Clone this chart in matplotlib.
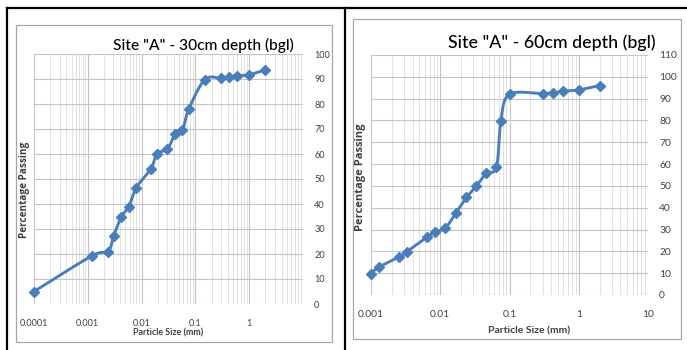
import numpy as np
import matplotlib
matplotlib.use("Agg")
import matplotlib.pyplot as plt
from matplotlib.lines import Line2D
from matplotlib.patches import Rectangle
from matplotlib.ticker import LogLocator, FixedLocator, NullFormatter, FixedFormatter

# ---- data ----
size_30 = [0.0001, 0.0012, 0.00238, 0.00303, 0.0042, 0.0058, 0.0080, 0.0151, 0.0192,
           0.0299, 0.042, 0.0574, 0.075, 0.15, 0.3, 0.425, 0.6, 1.0, 2.0]
pass_30 = [5.0, 19.3, 21.0, 27.3, 34.9, 39.0, 46.6, 54.2, 60.2,
           61.9, 67.9, 69.6, 77.9, 89.8, 90.3, 90.7, 91.2, 91.7, 93.7]

size_60 = [0.001, 0.00129, 0.00257, 0.00328, 0.00646, 0.0085, 0.0119, 0.0169, 0.0239,
           0.033, 0.046, 0.0649, 0.075, 0.1, 0.3, 0.425, 0.6, 1.0, 2.0]
pass_60 = [9.7, 12.7, 17.5, 19.8, 26.6, 28.9, 30.8, 37.7, 44.7,
           49.8, 55.7, 58.7, 79.9, 92.0, 92.3, 92.8, 93.4, 94.0, 96.0]

title_30 = 'Site "A" - 30cm depth (bgl)'
title_60 = 'Site "A" - 60cm depth (bgl)'
xticks_30 = [0.0001, 0.001, 0.01, 0.1, 1]
xticklabels_30 = ["0.0001", "0.001", "0.01", "0.1", "1"]
xticks_60 = [0.001, 0.01, 0.1, 1, 10]
xticklabels_60 = ["0.001", "0.01", "0.1", "1", "10"]
yticks_30 = list(range(0, 101, 10))
yticks_60 = list(range(0, 111, 10))
xlabel = "Particle Size (mm)"
ylabel = "Percentage Passing"

BLUE = "#4a7ebb"
TICK = "#404040"
W, H = 687, 350
LATO = ["Lato", "DejaVu Sans"]


def smooth(ax, xs, ys, n=20):
    # Catmull-Rom through points in display space (like a smoothed line chart)
    pts = ax.transData.transform(np.column_stack([xs, ys]))
    P = np.vstack([pts[0], pts, pts[-1]])
    out = []
    for i in range(1, len(P) - 2):
        p0, p1, p2, p3 = P[i - 1], P[i], P[i + 1], P[i + 2]
        c1 = p1 + (p2 - p0) / 6.0
        c2 = p2 - (p3 - p1) / 6.0
        t = np.linspace(0, 1, n)[:, None]
        seg = ((1 - t) ** 3) * p1 + 3 * ((1 - t) ** 2) * t * c1 + 3 * (1 - t) * t ** 2 * c2 + t ** 3 * p2
        out.append(seg)
    out = np.vstack(out)
    return ax.transData.inverted().transform(out)


def make(ax, xs, ys, xlim, ylim, xticks, xtl, yticks, fs):
    ax.set_xscale("log")
    ax.set_xlim(*xlim)
    ax.set_ylim(*ylim)
    for s in ax.spines.values():
        s.set_visible(False)
    ax.yaxis.tick_right()
    ax.xaxis.set_major_locator(FixedLocator(xticks))
    ax.xaxis.set_major_formatter(FixedFormatter(xtl))
    ax.xaxis.set_minor_locator(LogLocator(base=10, subs=np.arange(2, 10), numticks=20))
    ax.xaxis.set_minor_formatter(NullFormatter())
    ax.set_yticks(yticks)
    ax.tick_params(axis="both", which="both", length=0, colors=TICK, labelsize=fs)
    ax.tick_params(axis="x", pad=11)
    ax.tick_params(axis="y", pad=8)
    for lab in ax.get_xticklabels() + ax.get_yticklabels():
        lab.set_family(LATO)
    ax.grid(True, which="major", axis="both", color="#c4c4c4", lw=0.8)
    ax.grid(True, which="minor", axis="x", color="#dcdcdc", lw=0.6)
    ax.set_axisbelow(True)
    sm = smooth(ax, xs, ys)
    ax.plot(sm[:, 0], sm[:, 1], color=BLUE, lw=2.1, zorder=3, clip_on=False)
    ax.plot(xs, ys, ls="none", marker="D", ms=5.5, color=BLUE, zorder=4, clip_on=False)


fig = plt.figure(figsize=(W / 100, H / 100), dpi=100)
fig.patch.set_facecolor("white")

def fx(x):
    return x / W

def fy(y):
    return 1 - y / H

# gray chart frames
fig.add_artist(Rectangle((fx(16), fy(342)), fx(332) - fx(16), (342 - 25) / H,
                         transform=fig.transFigure, fill=False, ec="#a6a6a6", lw=0.9))
fig.add_artist(Rectangle((fx(353), fy(339)), fx(681) - fx(353), (339 - 19) / H,
                         transform=fig.transFigure, fill=False, ec="#a6a6a6", lw=0.9))
# black table borders
for (x0, y0, x1, y1) in [(7, 8, 687, 8), (7, 8, 7, 350), (344.5, 8, 344.5, 350)]:
    fig.add_artist(Line2D([fx(x0), fx(x1)], [fy(y0), fy(y1)], transform=fig.transFigure,
                          color="black", lw=1.6))

ax1 = fig.add_axes([fx(34), fy(304), (303 - 34) / W, (304 - 54) / H])
ax2 = fig.add_axes([fx(371), fy(295), (648 - 371) / W, (295 - 55) / H])

make(ax1, size_30, pass_30, (0.0001, 10), (0, 100), xticks_30, xticklabels_30, yticks_30, 6.6)
make(ax2, size_60, pass_60, (0.001, 10), (0, 110), xticks_60, xticklabels_60, yticks_60, 7.4)

fig.text(fx(203), fy(45), title_30, ha="center", va="center", fontsize=11.2, family=LATO,
         color="black", weight="medium")
fig.text(fx(552), fy(43), title_60, ha="center", va="center", fontsize=12.8, family=LATO,
         color="black", weight="medium")

fig.text(fx(168), fy(333), xlabel, ha="center", va="center", fontsize=6.4, family=LATO, color=TICK, weight="bold")
fig.text(fx(529), fy(331), xlabel, ha="center", va="center", fontsize=7.5, family=LATO, color=TICK, weight="bold")
fig.text(fx(25), fy(190), ylabel, ha="center", va="center", rotation=90, fontsize=7.2,
         family=["Open Sans", "DejaVu Sans"], color=TICK, weight="bold")
fig.text(fx(361), fy(177), ylabel, ha="center", va="center", rotation=90, fontsize=8.0,
         family=["Open Sans", "DejaVu Sans"], color=TICK, weight="bold")

fig.savefig("out.png", dpi=100)
